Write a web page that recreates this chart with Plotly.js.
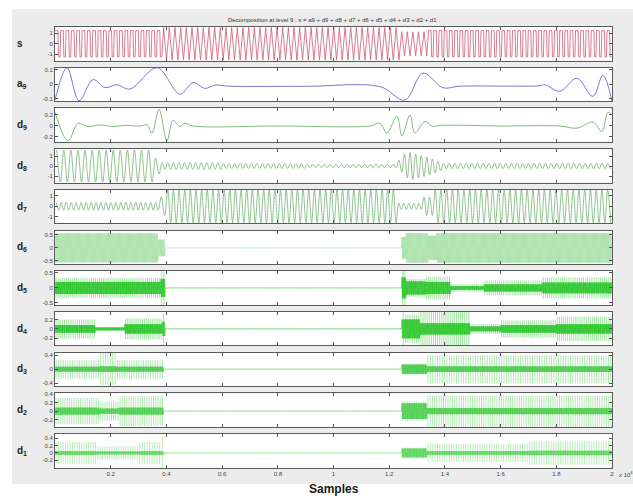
<!DOCTYPE html>
<html>
<head>
<meta charset="utf-8">
<script src="https://cdn.plot.ly/plotly-3.0.1.min.js"></script>
<style>
  html, body { margin: 0; padding: 0; background: #ffffff; }
  #chart { width: 633px; height: 498px; }
</style>
</head>
<body>
<div id="chart"></div>
<script>
// ---- sample axis -------------------------------------------------------
const X_TICKS = [2000, 4000, 6000, 8000, 10000, 12000, 14000, 16000, 18000, 20000];
const X_TICK_TEXT = ['0.2', '0.4', '0.6', '0.8', '1', '1.2', '1.4', '1.6', '1.8', '2'];

// ---- s : analysed signal (segment edges, cycles per segment, amplitude) -
const S_EDGES = [0, 3850, 12400, 13400, 20000];
const S_CYCLES = [20, 42, 5, 35];
const S_AMP = [1.25, 1.55, 1.15, 1.25];
const S_SHAPE = ['square', 'tri', 'tri', 'square'];

// ---- a9 : approximation, turning points --------------------------------
const A9_X = [0, 431, 862, 1364, 1795, 2226, 2693, 3662, 4488, 4954, 5385, 5744, 6283, 9000, 11668,
              12565, 13211, 13929, 14540, 17412, 17591, 18130, 18740, 19314, 19673, 20000];
const A9_Y = [-0.11, 0.112, -0.115, 0.03, -0.025, -0.005, -0.035, 0.112, -0.07, 0.01, -0.03, -0.008, -0.015, -0.016, -0.018,
              -0.11, 0.075, -0.025, -0.015, -0.012, -0.005, -0.05, 0.04, -0.085, 0.06, -0.118];

// ---- d9 : detail level 9, turning points -------------------------------
const D9_X = [0, 467, 826, 1185, 1616, 2082, 2513, 3052, 3303, 3482, 3734, 4021, 4236, 4488, 4667, 4954, 8000,
              11300, 11668, 11919, 12278, 12457, 12745, 12924, 13283, 13570, 13822, 16000,
              18130, 18740, 19314, 19637, 19853, 20000];
const D9_Y = [0.25, -0.27, 0.05, -0.01, 0.02, -0.01, 0.01, 0.0, 0.02, -0.13, 0.3, -0.27, 0.1, -0.01, 0.05, 0.0, 0.0,
              0.0, 0.05, -0.13, 0.18, -0.18, 0.2, -0.13, 0.08, -0.01, 0.01, 0.0,
              0.0, -0.04, 0.07, -0.1, 0.25, 0.2];

// ---- d8 : detail level 8 ------------------------------------------------
const D8_EDGES = [0, 3550, 3800, 6000, 9000, 12300, 12500, 12700, 12900, 13100, 13300, 13500, 13700, 13900, 20000];
const D8_CYCLES = [14, 1, 11, 15, 16, 1, 1, 1, 1, 1, 1, 1, 1, 30];
const D8_AMP = [1.6, 0.8, 0.35, 0.25, 0.17, 0.6, 1.2, 1.35, 1.2, 1.05, 0.9, 0.7, 0.5, 0.27];

// ---- d7 : detail level 7 ------------------------------------------------
const D7_EDGES = [0, 3750, 4000, 12300, 13200, 13600, 20000];
const D7_CYCLES = [21, 1, 41, 5, 2, 31];
const D7_AMP = [0.38, 0.9, 1.6, 0.3, 0.9, 1.6];

// ---- d6 .. d1 : fine details (segment edges, core level, burst level) ---
const D6_EDGES = [0, 3700, 3950, 12450, 12600, 13400, 13700, 20000];
const D6_CORE = [0.56, 0.32, 0.004, 0.42, 0.57, 0.47, 0.57];
const D6_BAR = [0, 0, 0, 0, 0, 0, 0];

const D5_EDGES = [0, 3800, 3950, 12450, 12600, 13300, 14200, 15400, 17500, 20000];
const D5_CORE = [0.2, 0.3, 0.004, 0.35, 0.22, 0.2, 0.06, 0.12, 0.18];
const D5_BAR = [0.33, 0.55, 0, 0.6, 0.3, 0.38, 0.12, 0.25, 0.35];

const D4_EDGES = [0, 1450, 2500, 3850, 3950, 12450, 12550, 13100, 14900, 16000, 18000, 20000];
const D4_CORE = [0.08, 0.03, 0.1, 0.15, 0.006, 0.2, 0.2, 0.12, 0.05, 0.08, 0.1];
const D4_BAR = [0.2, 0.04, 0.22, 0.33, 0, 0.35, 0.3, 0.36, 0.1, 0.18, 0.26];

const D3_EDGES = [0, 1600, 2200, 3900, 12450, 13350, 20000];
const D3_CORE = [0.07, 0.08, 0.07, 0.004, 0.13, 0.08];
const D3_BAR = [0.27, 0.45, 0.27, 0, 0.15, 0.4];

const D2_EDGES = [0, 1600, 2300, 3900, 12450, 13350, 20000];
const D2_CORE = [0.08, 0.06, 0.08, 0.004, 0.18, 0.07];
const D2_BAR = [0.3, 0.22, 0.34, 0, 0.22, 0.36];

const D1_EDGES = [0, 1500, 3000, 3800, 3900, 12450, 13350, 17000, 20000];
const D1_CORE = [0.05, 0.04, 0.05, 0.05, 0.004, 0.12, 0.05, 0.06];
const D1_BAR = [0.3, 0.18, 0.3, 0.45, 0, 0.15, 0.25, 0.32];

// ---- panel labels, ranges and ticks ------------------------------------
const ROW_LABELS = ['s', 'a<sub>9</sub>', 'd<sub>9</sub>', 'd<sub>8</sub>', 'd<sub>7</sub>', 'd<sub>6</sub>',
                    'd<sub>5</sub>', 'd<sub>4</sub>', 'd<sub>3</sub>', 'd<sub>2</sub>', 'd<sub>1</sub>'];
const Y_RANGES = [[-1.6, 1.6], [-0.118, 0.112], [-0.29, 0.32], [-1.66, 1.69], [-1.65, 1.6], [-0.62, 0.67],
                  [-0.56, 0.56], [-0.35, 0.36], [-0.48, 0.47], [-0.36, 0.41], [-0.4, 0.52]];
const Y_TICKS = [[-1, 0, 1], [-0.1, 0, 0.1], [-0.2, 0, 0.2], [-1, 0, 1], [-1, 0, 1], [-0.5, 0, 0.5],
                 [-0.5, 0, 0.5], [-0.2, 0, 0.2], [-0.4, 0, 0.4], [-0.2, 0, 0.2, 0.4], [-0.2, 0, 0.2, 0.4]];
const Y_TICK_TEXT = [['-1', '0', '1'], ['-0.1', '0', '0.1'], ['-0.2', '0', '0.2'], ['-1', '0', '1'], ['-1', '0', '1'],
                     ['-0.5', '0', '0.5'], ['-0.5', '0', '0.5'], ['-0.2', '0', '0.2'], ['-0.4', '0', '0.4'],
                     ['-0.2', '0', '0.2', '0.4'], ['-0.2', '0', '0.2', '0.4']];

// ---- waveform builders --------------------------------------------------
// turning points of an oscillation, one segment at a time
function oscillation(edges, cycles, amps, shapes) {
  const x = [], y = [];
  for (let s = 0; s < cycles.length; s++) {
    const x0 = edges[s], x1 = edges[s + 1], n = cycles[s], a = amps[s];
    const shape = shapes ? shapes[s] : 'tri';
    const p = (x1 - x0) / n;
    for (let c = 0; c < n; c++) {
      const b = x0 + c * p;
      if (shape === 'square') {
        x.push(b + 0.06 * p, b + 0.55 * p, b + 0.66 * p, b + 0.94 * p);
        y.push(a, a, -a, -a);
      } else {
        x.push(b + 0.25 * p, b + 0.75 * p);
        y.push(a, -a);
      }
    }
  }
  return { x, y };
}

// dense carrier filling the band of each segment
function carrier(edges, amps, period) {
  const x = [], y = [];
  for (let s = 0; s < amps.length; s++) {
    const x0 = edges[s], x1 = edges[s + 1];
    const n = Math.max(1, Math.round((x1 - x0) / period));
    const h = (x1 - x0) / (2 * n);
    for (let k = 0; k < 2 * n; k++) {
      x.push(x0 + (k + 0.5) * h);
      y.push(k % 2 === 0 ? amps[s] : -amps[s]);
    }
  }
  return { x, y };
}

// individual vertical strokes reaching the burst level
function strokes(edges, amps, spacing) {
  const x = [], y = [];
  for (let s = 0; s < amps.length; s++) {
    if (!amps[s]) continue;
    const x0 = edges[s], x1 = edges[s + 1];
    const n = Math.max(1, Math.round((x1 - x0) / spacing));
    const d = (x1 - x0) / n;
    for (let k = 0; k < n; k++) {
      const xk = x0 + (k + 0.5) * d;
      x.push(xk, xk, null);
      y.push(amps[s], -amps[s], null);
    }
  }
  return { x, y };
}

// ---- traces -------------------------------------------------------------
const traces = [];
function addLine(pt, row, color, width, spline) {
  traces.push({
    type: 'scatter', mode: 'lines', x: pt.x, y: pt.y,
    xaxis: row === 0 ? 'x' : 'x' + (row + 1),
    yaxis: row === 0 ? 'y' : 'y' + (row + 1),
    line: { color: color, width: width, shape: spline ? 'spline' : 'linear', smoothing: 1 },
    hoverinfo: 'skip', showlegend: false, cliponaxis: true
  });
}

addLine(oscillation(S_EDGES, S_CYCLES, S_AMP, S_SHAPE), 0, '#cf5a72', 0.8, false);
addLine({ x: A9_X, y: A9_Y }, 1, '#6a6ad0', 0.9, true);
addLine({ x: D9_X, y: D9_Y }, 2, '#72b472', 0.9, true);
addLine(oscillation(D8_EDGES, D8_CYCLES, D8_AMP), 3, '#72b472', 0.8, true);
addLine(oscillation(D7_EDGES, D7_CYCLES, D7_AMP), 4, '#72b472', 0.8, true);

const fine = [
  [D6_EDGES, D6_CORE, D6_BAR, '#98dc98', '#98dc98', 90, 40],
  [D5_EDGES, D5_CORE, D5_BAR, '#22c422', '#5fd35f', 75, 30],
  [D4_EDGES, D4_CORE, D4_BAR, '#22c422', '#5fd35f', 75, 30],
  [D3_EDGES, D3_CORE, D3_BAR, '#3fc83f', '#7ad87a', 85, 30],
  [D2_EDGES, D2_CORE, D2_BAR, '#44cc44', '#7ddc7d', 80, 30],
  [D1_EDGES, D1_CORE, D1_BAR, '#55d455', '#88e088', 85, 30]
];
fine.forEach((f, i) => {
  const row = 5 + i;
  addLine(strokes(f[0], f[2], f[5]), row, f[4], 0.6, false);
  addLine(carrier(f[0], f[1], f[6]), row, f[3], 0.6, false);
});

// ---- layout -------------------------------------------------------------
const W = 633, H = 498;
const PX_LEFT = 55, PX_RIGHT = 612, PX_TOP = 27, PX_STEP = 40.7, PX_H = 33.5;
const layout = {
  width: W, height: H,
  margin: { l: 0, r: 0, t: 0, b: 0 },
  paper_bgcolor: '#ececec',
  plot_bgcolor: '#ffffff',
  showlegend: false,
  hovermode: false,
  font: { family: 'Liberation Sans, Arial, sans-serif', color: '#333' },
  annotations: [],
  shapes: [
    { type: 'rect', xref: 'paper', yref: 'paper', x0: 0, x1: 1, y0: 1 - 9 / H, y1: 1, fillcolor: '#ffffff', line: { width: 0 }, layer: 'below' },
    { type: 'rect', xref: 'paper', yref: 'paper', x0: 0, x1: 12 / W, y0: 0, y1: 1, fillcolor: '#ffffff', line: { width: 0 }, layer: 'below' },
    { type: 'rect', xref: 'paper', yref: 'paper', x0: 0, x1: 1, y0: 0, y1: 1 - 484 / H, fillcolor: '#ffffff', line: { width: 0 }, layer: 'below' }
  ]
};

for (let i = 0; i < 11; i++) {
  const top = PX_TOP + PX_STEP * i, bot = top + PX_H;
  const xs = i === 0 ? 'xaxis' : 'xaxis' + (i + 1);
  const ys = i === 0 ? 'yaxis' : 'yaxis' + (i + 1);
  const last = i === 10;
  layout[xs] = {
    domain: [PX_LEFT / W, PX_RIGHT / W],
    anchor: i === 0 ? 'y' : 'y' + (i + 1),
    range: [0, 20000],
    tickmode: 'array', tickvals: X_TICKS, ticktext: X_TICK_TEXT,
    showticklabels: last,
    ticks: 'inside', ticklen: 3, tickwidth: 1, tickcolor: '#555',
    showline: true, linecolor: '#5a5a5a', linewidth: 1, mirror: 'ticks',
    showgrid: false, zeroline: false, fixedrange: true,
    tickfont: { size: 6, color: '#444' }
  };
  layout[ys] = {
    domain: [1 - bot / H, 1 - top / H],
    anchor: i === 0 ? 'x' : 'x' + (i + 1),
    range: Y_RANGES[i],
    tickmode: 'array', tickvals: Y_TICKS[i], ticktext: Y_TICK_TEXT[i],
    ticks: 'inside', ticklen: 3, tickwidth: 1, tickcolor: '#555',
    showline: true, linecolor: '#5a5a5a', linewidth: 1, mirror: 'ticks',
    showgrid: false, zeroline: false, fixedrange: true,
    tickfont: { size: 6, color: '#444' }
  };
  layout.annotations.push({
    xref: 'paper', yref: 'paper', x: 15 / W, y: 1 - (top + PX_H / 2) / H,
    xanchor: 'left', yanchor: 'middle', showarrow: false,
    text: '<b>' + ROW_LABELS[i] + '</b>',
    font: { size: 10, color: '#222', family: 'Liberation Sans, Arial, sans-serif' }
  });
}

layout.annotations.push(
  {
    xref: 'paper', yref: 'paper', x: 334 / W, y: 1 - 20 / H, xanchor: 'center', yanchor: 'middle',
    showarrow: false,
    text: 'Decomposition at level 9 : s = a9 + d9 + d8 + d7 + d6 + d5 + d4 + d3 + d2 + d1 .',
    font: { size: 6, color: '#333' }
  },
  {
    xref: 'paper', yref: 'paper', x: 334 / W, y: 1 - 489 / H, xanchor: 'center', yanchor: 'middle',
    showarrow: false, text: '<b>Samples</b>', font: { size: 12, color: '#1a1a1a' }
  },
  {
    xref: 'paper', yref: 'paper', x: 617 / W, y: 1 - 474 / H, xanchor: 'left', yanchor: 'middle',
    showarrow: false, text: 'x 10<sup>4</sup>', font: { size: 6, color: '#444' }
  }
);

Plotly.newPlot('chart', traces, layout, { staticPlot: true, displayModeBar: false });
</script>
</body>
</html>
